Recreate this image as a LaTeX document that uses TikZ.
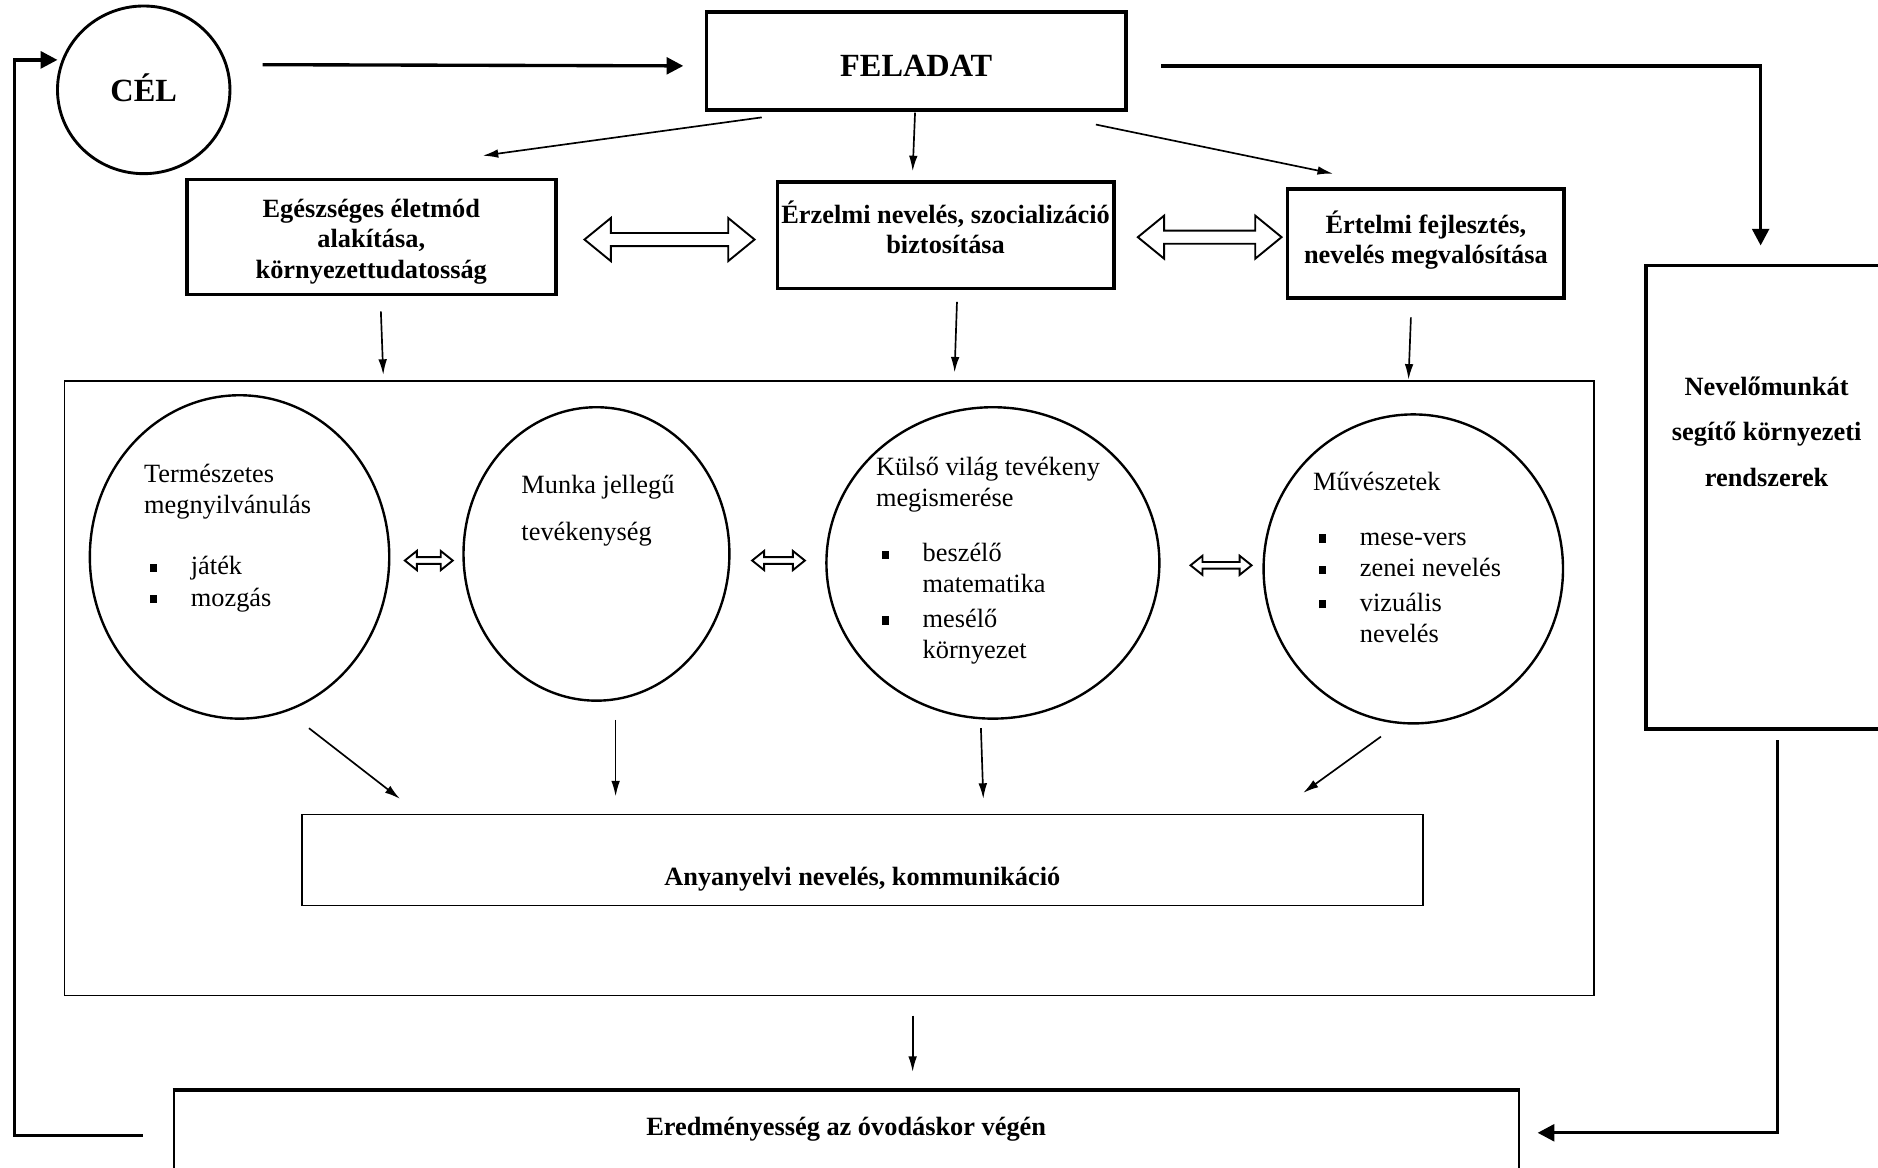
\documentclass[tikz,border=0pt]{standalone}
\usepackage{fontspec}
\setmainfont{Liberation Serif}
\usetikzlibrary{arrows.meta,calc,shapes.geometric}
\newcommand{\sqbul}{\rule[0.25ex]{2.8pt}{3.4pt}}
\newcommand{\mybul}[1]{\hspace*{2.5pt}\sqbul\hspace*{14.2pt}#1}
\newcommand{\mycont}[1]{\hspace*{19.5pt}#1}
\newcommand{\shifttxt}[2]{\raisebox{#1}[\height][\depth]{\begin{tabular}{@{}c@{}}#2\end{tabular}}}
\newcommand{\hollowdbl}[6]{%
  \draw[hollow] (#1,#3) -- ({#1+#6},{#3-#4}) -- ({#1+#6},{#3-#5}) -- ({#2-#6},{#3-#5}) -- ({#2-#6},{#3-#4}) -- (#2,#3)
   -- ({#2-#6},{#3+#4}) -- ({#2-#6},{#3+#5}) -- ({#1+#6},{#3+#5}) -- ({#1+#6},{#3+#4}) -- cycle;}
\tikzset{
  thickbox/.style={draw,line width=1.5pt,rectangle,inner sep=0pt,
     font=\bfseries\fontsize{11}{12.6}\selectfont},
  thinbox/.style={draw,line width=0.6pt,rectangle,inner sep=0pt},
  ell/.style={draw,line width=1pt,ellipse,inner sep=0pt},
  bodytext/.style={inner sep=0pt,font=\fontsize{11}{13}\selectfont},
  arrT/.style={line width=1.4pt,-{Triangle[length=7pt,width=7pt]}},
  arrt/.style={line width=0.7pt,-{Latex[length=6.5pt,width=3.6pt]}},
  hollow/.style={draw,line width=0.8pt,fill=white,line join=miter}
}
\begin{document}
\begin{tikzpicture}[x=0.5pt,y=-0.5pt]
\useasboundingbox (0,0) rectangle (1568,975);
% top nodes
\node[draw,ellipse,line width=1.2pt,minimum width=72pt,minimum height=70pt,inner sep=0pt,
      font=\bfseries\fontsize{13.5}{15}\selectfont] (cel) at (120,75) {\shifttxt{-1.5pt}{CÉL}};
\node[thickbox,minimum width=175pt,minimum height=41pt,font=\bfseries\fontsize{13.5}{15}\selectfont]
      (feladat) at (765,51) {\shifttxt{-3.5pt}{FELADAT}};
\node[thickbox,minimum width=154pt,minimum height=48pt] (egesz) at (310,198)
      {\shifttxt{-2pt}{Egészséges életmód\\alakítása,\\környezettudatosság}};
\node[thickbox,minimum width=140.5pt,minimum height=44.5pt] (erz) at (789.5,196.5)
      {\shifttxt{1.5pt}{Érzelmi nevelés, szocializáció\\biztosítása}};
\node[thickbox,minimum width=115.5pt,minimum height=45.5pt] (ert) at (1190.5,203.5)
      {\shifttxt{1pt}{Értelmi fejlesztés,\\nevelés megvalósítása}};
\node[thickbox,minimum width=100pt,minimum height=193.5pt,anchor=north west] (nev) at (1373,220) {};
\node[inner sep=0pt,anchor=base,font=\bfseries\fontsize{11}{19}\selectfont] (nevt) at (1475,330)
      {\begin{tabular}[t]{@{}c@{}}Nevelőmunkát\\segítő környezeti\\rendszerek\end{tabular}};
% big frame
\node[thinbox,minimum width=638.5pt,minimum height=256.5pt] (big) at (692.5,574.5) {};
% ellipses
\node[ell,minimum width=125pt,minimum height=135pt] (e1) at (200,465) {};
\node[ell,minimum width=111pt,minimum height=122.5pt] (e2) at (498,462.5) {};
\node[ell,minimum width=139pt,minimum height=130pt] (e3) at (829,470) {};
\node[ell,minimum width=125pt,minimum height=129pt] (e4) at (1180,475) {};
\node[bodytext,anchor=base west] (t1) at (120,403) {\begin{tabular}[t]{@{}l@{}}Természetes\\megnyilvánulás\\[12.5pt]
      \mybul{játék}\\ \mybul{mozgás}\end{tabular}};
\node[bodytext,anchor=base west] (t2) at (435,412) {\begin{tabular}[t]{@{}l@{}}Munka jellegű\\[6.5pt]tevékenység\end{tabular}};
\node[bodytext,anchor=base west] (t3) at (731,397) {\begin{tabular}[t]{@{}l@{}}Külső világ tevékeny\\megismerése\\[10pt]
      \mybul{beszélő}\\ \mycont{matematika}\\[1.5pt] \mybul{mesélő}\\ \mycont{környezet}\end{tabular}};
\node[bodytext,anchor=base west] (t4) at (1096,409.5) {\begin{tabular}[t]{@{}l@{}}Művészetek\\[10pt]
      \mybul{mese-vers}\\ \mybul{zenei nevelés}\\[1.5pt] \mybul{vizuális}\\ \mycont{nevelés}\end{tabular}};
% bottom boxes
\node[thinbox,minimum width=468pt,text height=29.5pt,text depth=8.5pt,font=\bfseries\fontsize{11}{13}\selectfont]
      (any) at (720,718) {Anyanyelvi nevelés, kommunikáció};
\node[draw,line width=0.8pt,inner sep=0pt,minimum width=561.5pt,text height=18.5pt,text depth=21.5pt,anchor=north,
      font=\bfseries\fontsize{11}{13}\selectfont] (erd) at (706.5,910) {Eredményesség az óvodáskor végén};
\draw[line width=1.6pt] (erd.north west) -- (erd.north east);
% hollow double arrows
\hollowdbl{488}{630}{200}{18}{5.5}{22}
\hollowdbl{950}{1070}{198}{18}{5.5}{22}
\hollowdbl{338}{378}{468}{8}{2.8}{10}
\hollowdbl{628}{672}{468}{8}{2.8}{10}
\hollowdbl{994}{1045}{472}{8}{2.8}{10}
% connector ends
\coordinate (c1s) at ($(cel.east|-feladat.west)+(26,3)$);
\coordinate (c1e) at ($(feladat.west)+(-18,4)$);
\coordinate (f1s) at (636,98);  \coordinate (f1e) at (403,130);
\coordinate (f2s) at (764,94);  \coordinate (f2e) at (762,143);
\coordinate (f3s) at (915,104); \coordinate (f3e) at (1113,145);
\coordinate (b1s) at (318,260); \coordinate (b1e) at (320,313);
\coordinate (b2s) at (799,252); \coordinate (b2e) at (797,311);
\coordinate (b3s) at (1178,265);\coordinate (b3e) at (1176,317);
\coordinate (a1s) at (258,608); \coordinate (a1e) at (334,667);
\coordinate (a2s) at (514,601); \coordinate (a2e) at (514,665);
\coordinate (a3s) at (819,608); \coordinate (a3e) at (821,667);
\coordinate (a4s) at (1153,615);\coordinate (a4e) at (1088,662);
\coordinate (gs) at (762,848);  \coordinate (ge) at (762,895);
\coordinate (rs) at ($(feladat.east)+(28,4)$);
\coordinate (re) at (1470,205);
\coordinate (ns) at (1484,618);
\coordinate (ne) at ($(erd.east)+(15,-5)$);
\coordinate (ls) at ($(erd.west)+(-25,-3)$);
\coordinate (le) at (48,50);
% connectors
\draw[arrT] (c1s) -- (c1e);
\draw[arrT] (rs) -| (re);
\draw[arrT] (ns) |- (ne);
\draw[arrT] (ls) -| (12,50) -- (le);
\draw[arrt] (f1s) -- (f1e);
\draw[arrt] (f2s) -- (f2e);
\draw[arrt] (f3s) -- (f3e);
\draw[arrt] (b1s) -- (b1e);
\draw[arrt] (b2s) -- (b2e);
\draw[arrt] (b3s) -- (b3e);
\draw[arrt] (a1s) -- (a1e);
\draw[arrt] (a2s) -- (a2e);
\draw[arrt] (a3s) -- (a3e);
\draw[arrt] (a4s) -- (a4e);
\draw[arrt] (gs) -- (ge);
\end{tikzpicture}
\end{document}
